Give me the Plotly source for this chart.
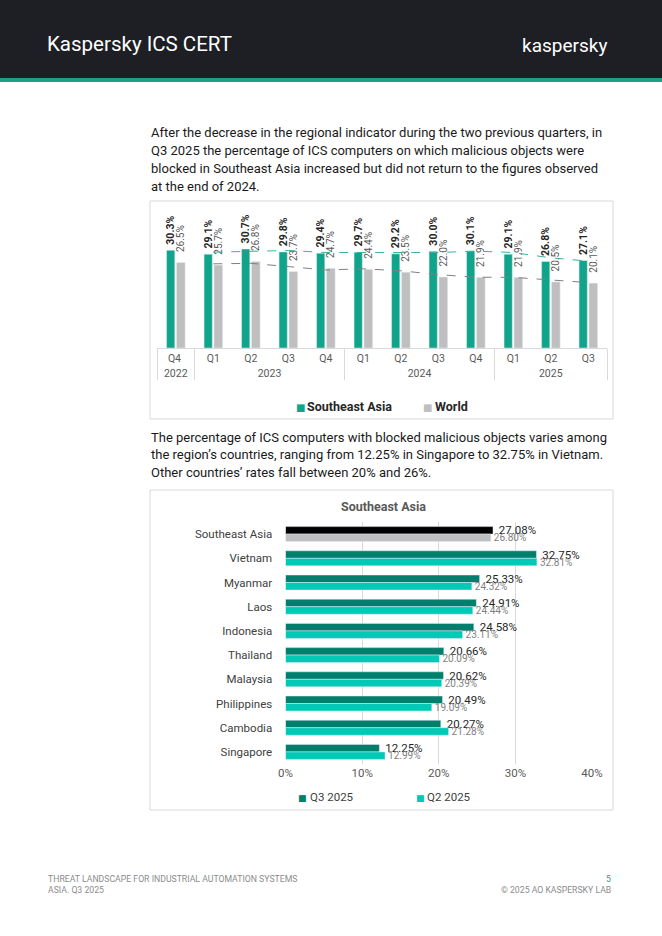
import plotly.graph_objects as go

W, H = 662, 936
FONT = "Roboto"

# ---------- Data: chart 1 ----------
years = ["2022", "2023", "2023", "2023", "2023", "2024", "2024", "2024", "2024", "2025", "2025", "2025"]
# the first "Q4 " carries a trailing space so Plotly's multicategory ordering keeps Q1..Q4 order
quarters = ["Q4 ", "Q1", "Q2", "Q3", "Q4", "Q1", "Q2", "Q3", "Q4", "Q1", "Q2", "Q3"]
sea_values = [30.3, 29.1, 30.7, 29.8, 29.4, 29.7, 29.2, 30.0, 30.1, 29.1, 26.8, 27.1]
world_values = [26.5, 25.7, 26.8, 23.7, 24.7, 24.4, 23.5, 22.0, 21.9, 21.9, 20.5, 20.1]

# ---------- Data: chart 2 ----------
countries = ["Southeast Asia", "Vietnam", "Myanmar", "Laos", "Indonesia", "Thailand",
             "Malaysia", "Philippines", "Cambodia", "Singapore"]
q3_2025 = [27.08, 32.75, 25.33, 24.91, 24.58, 20.66, 20.62, 20.49, 20.27, 12.25]
q2_2025 = [26.80, 32.81, 24.32, 24.44, 23.11, 20.09, 20.39, 19.09, 21.28, 12.99]
x_ticks = [0, 10, 20, 30, 40]

para1 = [
    "After the decrease in the regional indicator during the two previous quarters, in",
    "Q3 2025 the percentage of ICS computers on which malicious objects were",
    "blocked in Southeast Asia increased but did not return to the figures observed",
    "at the end of 2024.",
]
para2 = [
    "The percentage of ICS computers with blocked malicious objects varies among",
    "the region\u2019s countries, ranging from 12.25% in Singapore to 32.75% in Vietnam.",
    "Other countries\u2019 rates fall between 20% and 26%.",
]


def px(x):
    return x / W


def py(y):
    return 1 - y / H


GREEN = "#10a48a"
GRAY = "#bfbfbf"
DARK_TEAL = "#00806c"
LIGHT_TEAL = "#00c9b6"

xcat = [years, quarters]

# 2-period moving average trend lines (as in the original chart)
sea_ma = [None] + [(sea_values[i - 1] + sea_values[i]) / 2 for i in range(1, len(sea_values))]
world_ma = [None] + [(world_values[i - 1] + world_values[i]) / 2 for i in range(1, len(world_values))]

fig = go.Figure()

fig.add_trace(go.Bar(
    x=xcat, y=sea_values, name="Southeast Asia", marker_color=GREEN,
    width=0.22, offset=-0.245,
    text=[f"\u00a0{v:.1f}%" for v in sea_values], textposition="outside", textangle=-90,
    textfont=dict(size=10.5, color="#262626", family=FONT, weight="bold"),
    constraintext="none", cliponaxis=False, showlegend=False,
    xaxis="x", yaxis="y", hoverinfo="skip",
))
fig.add_trace(go.Bar(
    x=xcat, y=world_values, name="World", marker_color=GRAY,
    width=0.23, offset=0.02,
    text=[f"\u00a0\u00a0\u00a0{v:.1f}%" for v in world_values], textposition="outside", textangle=-90,
    textfont=dict(size=10, color="#595959", family=FONT),
    constraintext="none", cliponaxis=False, showlegend=False,
    xaxis="x", yaxis="y", hoverinfo="skip",
))
fig.add_trace(go.Scatter(
    x=xcat, y=sea_ma, mode="lines", line=dict(color="#3bb29a", width=1, dash="dash"),
    showlegend=False, xaxis="x", yaxis="y", hoverinfo="skip",
))
fig.add_trace(go.Scatter(
    x=xcat, y=world_ma, mode="lines", line=dict(color="#808080", width=1, dash="dash"),
    showlegend=False, xaxis="x", yaxis="y", hoverinfo="skip",
))

# chart 2
q3_colors = ["#000000"] + [DARK_TEAL] * (len(countries) - 1)
q2_colors = [GRAY] + [LIGHT_TEAL] * (len(countries) - 1)
fig.add_trace(go.Bar(
    y=countries, x=q3_2025, orientation="h", name="Q3 2025",
    marker_color=q3_colors, width=0.31, offset=-0.31,
    text=[f"\u00a0{v:.2f}%" for v in q3_2025], textposition="outside",
    textfont=dict(size=11.5, color="#262626", family=FONT),
    constraintext="none", cliponaxis=False, showlegend=False,
    xaxis="x2", yaxis="y2", hoverinfo="skip",
))
fig.add_trace(go.Bar(
    y=countries, x=q2_2025, orientation="h", name="Q2 2025",
    marker_color=q2_colors, width=0.31, offset=0.0,
    text=[f"{v:.2f}%" for v in q2_2025], textposition="outside",
    textfont=dict(size=10, color="#7f7f7f", family=FONT),
    constraintext="none", cliponaxis=False, showlegend=False,
    xaxis="x2", yaxis="y2", hoverinfo="skip",
))

shapes = [
    dict(type="rect", xref="paper", yref="paper", x0=0, x1=1, y0=py(78), y1=1,
         fillcolor="#1d1f25", line=dict(width=0), layer="below"),
    dict(type="rect", xref="paper", yref="paper", x0=0, x1=1, y0=py(82), y1=py(78),
         fillcolor="#1ea088", line=dict(width=0), layer="below"),
    dict(type="rect", xref="paper", yref="paper", x0=px(150), x1=px(613), y0=py(419), y1=py(201),
         fillcolor="rgba(0,0,0,0)", line=dict(color="#d9d9d9", width=1), layer="below"),
    dict(type="rect", xref="paper", yref="paper", x0=px(150), x1=px(613), y0=py(810), y1=py(490),
         fillcolor="rgba(0,0,0,0)", line=dict(color="#d9d9d9", width=1), layer="below"),
]

annotations = [
    dict(text="Kaspersky ICS CERT", x=px(45), y=py(44), xanchor="left", yanchor="middle",
         font=dict(size=20.5, color="#ffffff", family=FONT)),
    dict(text="kaspersky", x=px(609), y=py(45), xanchor="right", yanchor="middle",
         font=dict(size=19, color="#ffffff", family=FONT)),
    dict(text="Southeast Asia", x=px(383), y=py(507), xanchor="center", yanchor="middle",
         font=dict(size=12.5, color="#595959", family=FONT, weight="bold")),
    dict(text="THREAT LANDSCAPE FOR INDUSTRIAL AUTOMATION SYSTEMS", x=px(46), y=py(878.5),
         xanchor="left", yanchor="middle", font=dict(size=8.7, color="#8c8c8c", family=FONT)),
    dict(text="ASIA. Q3 2025", x=px(46), y=py(889.5),
         xanchor="left", yanchor="middle", font=dict(size=8.7, color="#8c8c8c", family=FONT)),
    dict(text="5", x=px(613), y=py(878.5),
         xanchor="right", yanchor="middle", font=dict(size=8.7, color="#1ea088", family=FONT)),
    dict(text="\u00a9 2025 AO KASPERSKY LAB", x=px(613), y=py(889.5),
         xanchor="right", yanchor="middle", font=dict(size=8.7, color="#8c8c8c", family=FONT)),
]
for i, line in enumerate(para1):
    annotations.append(dict(text=line, x=px(149), y=py(133 + i * 17.7), xanchor="left", yanchor="middle",
                            font=dict(size=13, color="#1a1a1a", family=FONT)))
for i, line in enumerate(para2):
    annotations.append(dict(text=line, x=px(149), y=py(437 + i * 17.5), xanchor="left", yanchor="middle",
                            font=dict(size=13, color="#1a1a1a", family=FONT)))

# legends (square + label) built from the trace names/colours
legend1 = [(fig.data[0].name, GREEN, 300, 305), (fig.data[1].name, GRAY, 428, 433)]
for name, col, sx, tx in legend1:
    annotations.append(dict(text="\u25a0", x=px(sx), y=py(407), xanchor="center", yanchor="middle",
                            font=dict(size=10, color=col, family="DejaVu Sans")))
    annotations.append(dict(text=name, x=px(tx), y=py(406), xanchor="left", yanchor="middle",
                            font=dict(size=12.5, color="#262626", family=FONT, weight="bold")))
legend2 = [(fig.data[4].name, DARK_TEAL, 302, 308), (fig.data[5].name, LIGHT_TEAL, 420, 425)]
for name, col, sx, tx in legend2:
    annotations.append(dict(text="\u25a0", x=px(sx), y=py(797.5), xanchor="center", yanchor="middle",
                            font=dict(size=9, color=col, family="DejaVu Sans")))
    annotations.append(dict(text=name, x=px(tx), y=py(797), xanchor="left", yanchor="middle",
                            font=dict(size=11.5, color="#404040", family=FONT)))

for a in annotations:
    a.update(xref="paper", yref="paper", showarrow=False)

fig.update_layout(
    width=W, height=H, autosize=False,
    margin=dict(l=0, r=0, t=0, b=0, pad=0),
    paper_bgcolor="#ffffff", plot_bgcolor="rgba(0,0,0,0)",
    font=dict(family=FONT, color="#404040"),
    barmode="overlay",
    shapes=shapes, annotations=annotations,
    showlegend=False,
    xaxis=dict(domain=[px(157), px(607)], type="multicategory", automargin=False,
               showline=True, linecolor="#d9d9d9", linewidth=1,
               showdividers=True, dividercolor="#d9d9d9", dividerwidth=1,
               tickfont=dict(size=10.5, color="#595959", family=FONT),
               showgrid=False, fixedrange=True),
    yaxis=dict(domain=[py(348), py(219)], range=[0, 40], visible=False, automargin=False,
               fixedrange=True),
    xaxis2=dict(domain=[px(285.5), px(592)], range=[0, 40], anchor="y2", automargin=False,
                tickmode="array", tickvals=x_ticks, ticktext=[f"{v}%" for v in x_ticks],
                showgrid=True, gridcolor="#d9d9d9",
                zeroline=False, showline=False,
                tickfont=dict(size=11.5, color="#595959", family=FONT), fixedrange=True),
    yaxis2=dict(domain=[py(764), py(522)], anchor="x2", autorange="reversed", automargin=False,
                categoryorder="array", categoryarray=countries,
                ticks="outside", ticklen=10, tickcolor="rgba(0,0,0,0)",
                tickfont=dict(size=11.5, color="#404040", family=FONT),
                showgrid=False, showline=False, fixedrange=True),
)

fig.write_html(
    "out.html",
    config={"displayModeBar": False},
    post_script="document.body.style.margin='0';document.body.style.padding='0';"
                "document.body.style.overflow='hidden';",
)
